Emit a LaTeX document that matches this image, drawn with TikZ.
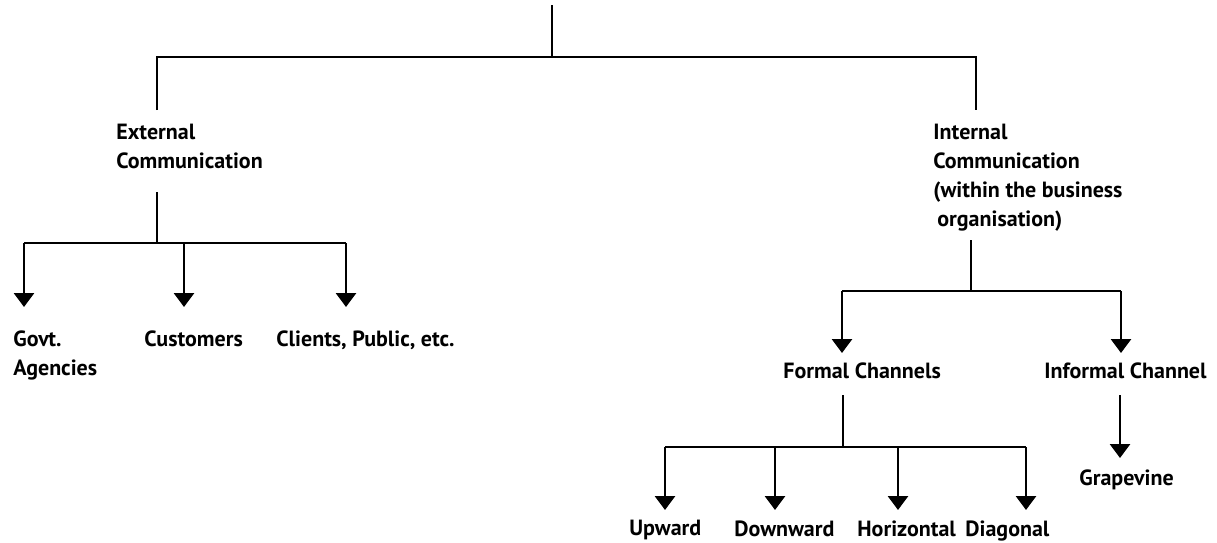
\documentclass[tikz,border=0pt]{standalone}
\usepackage{fontspec}
\setmainfont{PT Sans}
\usetikzlibrary{arrows.meta}

\tikzset{
  lbl/.style={inner sep=0pt, align=left, anchor=north west, font=\fontsize{11}{14.5}\selectfont\bfseries},
  arr/.style={-{Triangle[width=10pt,length=7pt]}}
}

\begin{document}
\begin{tikzpicture}[x=0.5pt, y=-0.5pt, line width=1.4pt]
    \useasboundingbox (0,0) rectangle (1217,542);

    % labels
    \node[lbl] (ext) at (115,123) {External\\Communication};
    \node[lbl] (int) at (932,123) {Internal\\Communication\\(within the business\\\hspace{2pt}organisation)};
    \node[lbl] (govt) at (12,329) {Govt.\\Agencies};
    \node[lbl] (cust) at (143,329) {Customers};
    \node[lbl] (clients) at (275,329) {Clients, Public, etc.};
    \node[lbl] (formal) at (782,361) {Formal Channels};
    \node[lbl] (informal) at (1043,361) {Informal Channel};
    \node[lbl] (grape) at (1078,468) {Grapevine};
    \node[lbl] (up) at (628,519) {Upward};
    \node[lbl] (down) at (733,519) {Downward};
    \node[lbl] (hor) at (856,519) {Horizontal};
    \node[lbl] (diag) at (964,519) {Diagonal};

    % joints
    \coordinate (root) at (552,5);
    \coordinate (topbar) at (552,57);
    \coordinate (extin) at (157,110);
    \coordinate (intin) at (976,110);
    \coordinate (extout) at (157,192);
    \coordinate (extbar) at (157,243);
    \coordinate (govtin) at (24,307);
    \coordinate (custin) at (184,307);
    \coordinate (clientsin) at (346,307);
    \coordinate (intout) at (971,240);
    \coordinate (intbar) at (971,291);
    \coordinate (formalin) at (842,353);
    \coordinate (informalin) at (1121,353);
    \coordinate (formalout) at (843,395);
    \coordinate (formalbar) at (843,447);
    \coordinate (upin) at (665,510);
    \coordinate (downin) at (775,510);
    \coordinate (horin) at (898,510);
    \coordinate (diagin) at (1026,510);
    \coordinate (informalout) at (1120,395);
    \coordinate (grapein) at (1120,458);

    % top level
    \draw (root) -- (topbar);
    \draw (extin) |- (topbar) -| (intin);

    % external
    \draw (extout) -- (extbar);
    \draw (govtin |- extbar) -- (clientsin |- extbar);
    \foreach \t in {govtin,custin,clientsin}
      \draw[arr] (\t |- extbar) -- (\t);

    % internal
    \draw (intout) -- (intbar);
    \draw (formalin |- intbar) -- (informalin |- intbar);
    \foreach \t in {formalin,informalin}
      \draw[arr] (\t |- intbar) -- (\t);

    % formal channels
    \draw (formalout) -- (formalbar);
    \draw (upin |- formalbar) -- (diagin |- formalbar);
    \foreach \t in {upin,downin,horin,diagin}
      \draw[arr] (\t |- formalbar) -- (\t);

    % informal channel
    \draw[arr] (informalout) -- (grapein);
\end{tikzpicture}
\end{document}
